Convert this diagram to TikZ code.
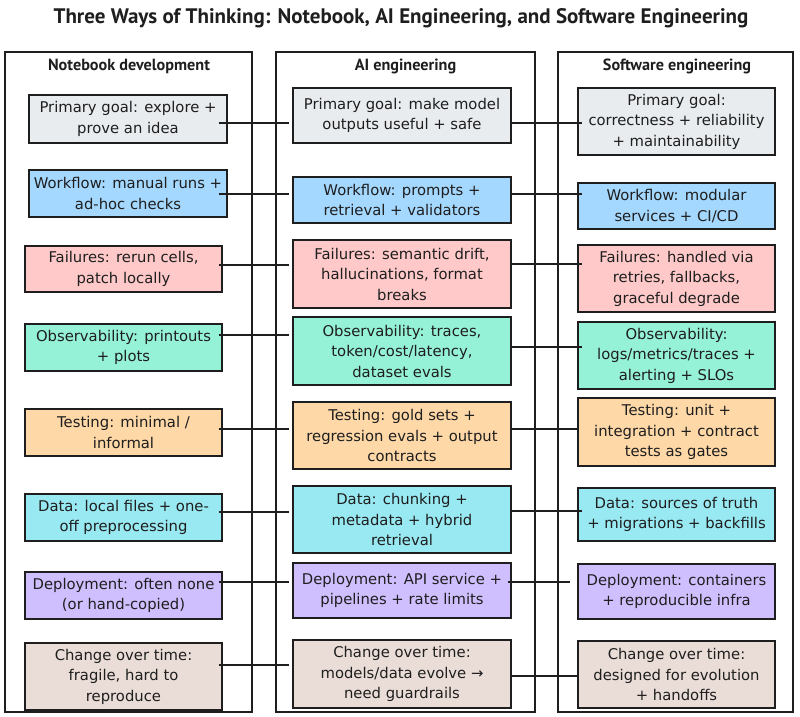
\documentclass[tikz,border=0pt]{standalone}
\usepackage{fontspec}
\usetikzlibrary{calc}
\setmainfont{DejaVu Sans}
\newfontfamily\headfont{PT Sans}
\definecolor{ink}{HTML}{1E1E1E}
\definecolor{cgray}{HTML}{E9ECEF}
\definecolor{cblue}{HTML}{A5D8FF}
\definecolor{cred}{HTML}{FFC9C9}
\definecolor{cgreen}{HTML}{96F2D7}
\definecolor{corange}{HTML}{FFD8A8}
\definecolor{ccyan}{HTML}{99E9F2}
\definecolor{cviolet}{HTML}{D0BFFF}
\definecolor{cbrown}{HTML}{EADDD7}
\tikzset{
  panel/.style={draw=ink, line width=1.8pt, inner sep=0pt},
  head/.style={font=\headfont\bfseries\fontsize{16.2}{19}\selectfont, text=ink, inner sep=0pt},
  box/.style={draw=ink, line width=1.1pt, inner sep=0pt, align=center, text=ink,
    font=\fontsize{14.8}{20.5}\selectfont},
  bl/.style={box, minimum width=197pt},
  bm/.style={box, minimum width=218pt},
  br/.style={box, minimum width=197pt},
  conn/.style={draw=ink, line width=1.2pt},
}
\begin{document}
\begin{tikzpicture}[x=1pt, y=-1pt]
\fill[white] (0,0) rectangle (800,717);
\useasboundingbox (0,0) rectangle (800,717);

\node[font=\headfont\bfseries\fontsize{21}{24}\selectfont, text=ink, inner sep=0pt] (title) at (401,18) {Three Ways of Thinking: Notebook, AI Engineering, and Software Engineering};

% panels
\node[panel, minimum width=247pt, minimum height=660pt] (p1) at (128.5,382) {};
\node[panel, minimum width=259pt, minimum height=660pt] (p2) at (405.5,382) {};
\node[panel, minimum width=235pt, minimum height=660pt] (p3) at (675.5,382) {};
\node[head] (h1) at (129,66) {Notebook development};
\node[head] (h2) at (405.5,66) {AI engineering};
\node[head] (h3) at (677,66) {Software engineering};

% left column
\node[bl, fill=cgray, minimum width=198pt, minimum height=48pt] (l1) at (128,119) {Primary goal: explore +\\prove an idea};
\node[bl, fill=cblue, minimum width=198pt, minimum height=47pt] (l2) at (128,193.5) {Workflow: manual runs +\\ad-hoc checks};
\node[bl, fill=cred, minimum height=46pt] (l3) at (123.5,269) {Failures: rerun cells,\\patch locally};
\node[bl, fill=cgreen, minimum height=47pt] (l4) at (123.5,347.5) {Observability: printouts\\+ plots};
\node[bl, fill=corange, minimum height=47pt] (l5) at (123.5,432.5) {Testing: minimal /\\informal};
\node[bl, fill=ccyan, minimum height=47pt] (l6) at (123.5,517.5) {Data: local files + one-\\off preprocessing};
\node[bl, fill=cviolet, minimum height=47pt] (l7) at (123.5,595.5) {Deployment: often none\\(or hand-copied)};
\node[bl, fill=cbrown, minimum height=67pt] (l8) at (123.5,676.5) {Change over time:\\fragile, hard to\\reproduce};

% middle column
\node[bm, fill=cgray, minimum height=55pt] (m1) at (402,115.5) {Primary goal: make model\\outputs useful + safe};
\node[bm, fill=cblue, minimum height=46pt] (m2) at (402,200) {Workflow: prompts +\\retrieval + validators};
\node[bm, fill=cred, minimum height=68pt] (m3) at (402,274) {Failures: semantic drift,\\hallucinations, format\\breaks};
\node[bm, fill=cgreen, minimum height=68pt] (m4) at (402,351) {Observability: traces,\\token/cost/latency,\\dataset evals};
\node[bm, fill=corange, minimum height=67pt] (m5) at (402,435.5) {Testing: gold sets +\\regression evals + output\\contracts};
\node[bm, fill=ccyan, minimum height=67pt] (m6) at (402,519.5) {Data: chunking +\\metadata + hybrid\\retrieval};
\node[bm, fill=cviolet, minimum height=55pt] (m7) at (402,590.5) {Deployment: API service +\\pipelines + rate limits};
\node[bm, fill=cbrown, minimum height=68pt] (m8) at (402,674) {Change over time:\\models/data evolve →\\need guardrails};

% right column
\node[br, fill=cgray, minimum height=67pt] (r1) at (676.5,121.5) {Primary goal:\\correctness + reliability\\+ maintainability};
\node[br, fill=cblue, minimum height=46pt] (r2) at (676.5,206) {Workflow: modular\\services + CI/CD};
\node[br, fill=cred, minimum height=67pt] (r3) at (676.5,278.5) {Failures: handled via\\retries, fallbacks,\\graceful degrade};
\node[br, fill=cgreen, minimum height=67pt] (r4) at (676.5,355.5) {Observability:\\logs/metrics/traces +\\alerting + SLOs};
\node[br, fill=corange, minimum height=68pt] (r5) at (676.5,432) {Testing: unit +\\integration + contract\\tests as gates};
\node[br, fill=ccyan, minimum height=53pt] (r6) at (676.5,514.5) {Data: sources of truth\\+ migrations + backfills};
\node[br, fill=cviolet, minimum height=55pt] (r7) at (676.5,591.5) {Deployment: containers\\+ reproducible infra};
\node[br, fill=cbrown, minimum height=67pt] (r8) at (676.5,674.5) {Change over time:\\designed for evolution\\+ handoffs};

% connectors left -> middle
\draw[conn] (l1.east |- 0,123) ++(-9,0) -- ($(m1.west |- 0,123)+(-3,0)$);
\draw[conn] (l2.east |- 0,194) ++(-9,0) -- ($(m2.west |- 0,194)+(-3,0)$);
\draw[conn] (l3.east |- 0,265) ++(-4,0) -- ($(m3.west |- 0,265)+(-3,0)$);
\draw[conn] (l4.east |- 0,335) ++(-4,0) -- ($(m4.west |- 0,335)+(-3,0)$);
\draw[conn] (l5.east |- 0,429) ++(-4,0) -- ($(m5.west |- 0,429)+(-3,0)$);
\draw[conn] (l6.east |- 0,512) ++(-4,0) -- ($(m6.west |- 0,512)+(-3,0)$);
\draw[conn] (l7.east |- 0,582) ++(-4,0) -- ($(m7.west |- 0,582)+(-3,0)$);
\draw[conn] (l8.east |- 0,665) ++(-4,0) -- ($(m8.west |- 0,665)+(-3,0)$);

% connectors middle -> right
\draw[conn] (m1.east |- 0,123) -- ($(r1.west |- 0,123)+(5,0)$);
\draw[conn] (m2.east |- 0,194) -- ($(r2.west |- 0,194)+(5,0)$);
\draw[conn] (m3.east |- 0,264) -- ($(r3.west |- 0,264)+(5,0)$);
\draw[conn] (m4.east |- 0,347) -- ($(r4.west |- 0,347)+(5,0)$);
\draw[conn] (m5.east |- 0,429) -- ($(r5.west |- 0,429)+(1,0)$);
\draw[conn] (m6.east |- 0,511) -- ($(r6.west |- 0,511)+(5,0)$);
\draw[conn] (m7.east |- 0,582) ++(-4,0) -- ($(r7.west |- 0,582)+(-7,0)$);
\draw[conn] (m8.east |- 0,676) -- ($(r8.west |- 0,676)+(2,0)$);
\end{tikzpicture}
\end{document}
